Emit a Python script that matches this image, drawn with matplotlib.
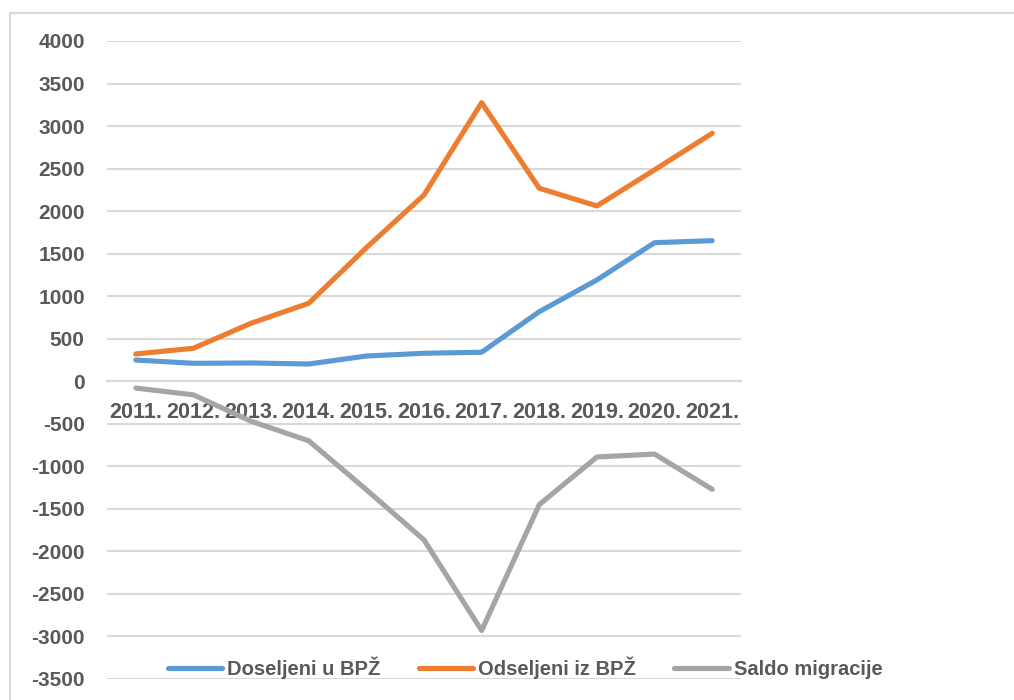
import matplotlib
matplotlib.use("Agg")
import matplotlib.pyplot as plt
import matplotlib.patches as mpatches
from matplotlib.ticker import MultipleLocator

TEXT = "#595959"
GRID = "#d9d9d9"
BLUE = "#5b9bd5"
ORANGE = "#ed7d31"
GRAY = "#a5a5a5"

plt.rcParams.update({
    "font.family": ["Liberation Sans", "DejaVu Sans"],
    "font.weight": "bold",
    "axes.unicode_minus": False,
})

years = ["2011.", "2012.", "2013.", "2014.", "2015.", "2016.",
         "2017.", "2018.", "2019.", "2020.", "2021."]
doseljeni = [250, 211, 215, 203, 297, 329, 341, 818, 1191, 1629, 1653]
odseljeni = [321, 388, 682, 917, 1570, 2190, 3275, 2269, 2061, 2485, 2915]
saldo = [-80, -160, -470, -700, -1275, -1865, -2930, -1450, -890, -856, -1270]

W, H = 1014, 700
fig = plt.figure(figsize=(W / 100, H / 100), dpi=100)

# chart area border (cut off on the right and bottom like the screenshot)
border = mpatches.Rectangle((10 / W, -0.05), 1.2, 1 - 13 / H + 0.05,
                            transform=fig.transFigure, fill=False,
                            edgecolor=GRID, linewidth=1.5)
fig.patches.append(border)

ax = fig.add_axes([107 / W, 1 - 679 / H, (741 - 107) / W, (679 - 41) / H])
x = range(len(years))
ax.plot(x, doseljeni, color=BLUE, lw=3.7, solid_capstyle="round",
        solid_joinstyle="round", label="Doseljeni u BPŽ", zorder=3)
ax.plot(x, odseljeni, color=ORANGE, lw=3.7, solid_capstyle="round",
        solid_joinstyle="round", label="Odseljeni iz BPŽ", zorder=3)
ax.plot(x, saldo, color=GRAY, lw=3.7, solid_capstyle="round",
        solid_joinstyle="round", label="Saldo migracije", zorder=3)

ax.set_xlim(-0.5, len(years) - 0.5)
ax.set_ylim(-3500, 4000)
ax.yaxis.set_major_locator(MultipleLocator(500))
ax.grid(axis="y", color=GRID, lw=1.5, zorder=0)
for s in ["top", "right", "left"]:
    ax.spines[s].set_visible(False)
ax.spines["bottom"].set_position(("data", 0))
ax.spines["bottom"].set_color(GRID)
ax.spines["bottom"].set_linewidth(1.5)

ax.set_xticks(list(x))
ax.set_xticklabels(years)
ax.tick_params(axis="x", length=0, pad=15, labelsize=15.5, colors=TEXT)
ax.tick_params(axis="y", length=0, pad=16, labelsize=15, colors=TEXT)

fig.legend(loc="center", bbox_to_anchor=(525 / W, 1 - 668 / H), ncol=3,
           frameon=False, fontsize=14.5, handlelength=2.7, handletextpad=0.25,
           columnspacing=1.9, labelcolor=TEXT)

fig.savefig("out.png", dpi=100)
